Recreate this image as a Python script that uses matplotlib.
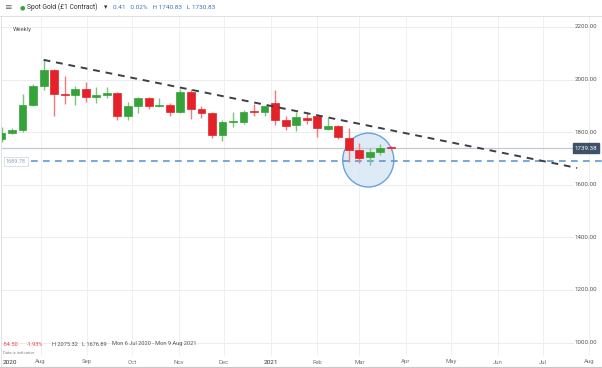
import matplotlib
matplotlib.use("Agg")
import matplotlib.pyplot as plt
import matplotlib.dates as mdates
from matplotlib.patches import Ellipse, FancyBboxPatch
from matplotlib.transforms import blended_transform_factory
import numpy as np
import pandas as pd

plt.rcParams['font.family'] = ['Roboto', 'DejaVu Sans']

# ---------------- data ----------------
week_start = pd.to_datetime([
    '2020-07-06', '2020-07-13', '2020-07-20', '2020-07-27', '2020-08-03', '2020-08-10',
    '2020-08-17', '2020-08-24', '2020-08-31', '2020-09-07', '2020-09-14', '2020-09-21',
    '2020-09-28', '2020-10-05', '2020-10-12', '2020-10-19', '2020-10-26', '2020-11-02',
    '2020-11-09', '2020-11-16', '2020-11-23', '2020-11-30', '2020-12-07', '2020-12-14',
    '2020-12-21', '2020-12-28', '2021-01-04', '2021-01-11', '2021-01-18', '2021-01-25',
    '2021-02-01', '2021-02-08', '2021-02-15', '2021-02-22', '2021-03-01', '2021-03-08',
    '2021-03-15', '2021-03-22'])
opens = [1774, 1798, 1807, 1902, 1975, 2035, 1944, 1940, 1964, 1933, 1941, 1950,
         1861, 1900, 1930, 1900, 1902, 1878, 1951, 1889, 1872, 1788, 1838, 1840,
         1882, 1877, 1910, 1846, 1828, 1855, 1862, 1814, 1825, 1779, 1733, 1707,
         1726, 1742]
highs = [1818, 1815, 1944, 1984, 2075, 2040, 2015, 1976, 1992, 1973, 1973, 1951,
         1916, 1933, 1935, 1931, 1910, 1965, 1965, 1898, 1875, 1848, 1875, 1885,
         1906, 1900, 1959, 1863, 1875, 1875, 1870, 1855, 1826, 1816, 1760, 1740,
         1755, 1746]
lows = [1763, 1794, 1799, 1900, 1962, 1863, 1907, 1902, 1916, 1910, 1931, 1848,
        1848, 1873, 1887, 1894, 1860, 1874, 1852, 1853, 1777, 1765, 1820, 1832,
        1860, 1863, 1828, 1808, 1805, 1832, 1783, 1809, 1775, 1685, 1682, 1677,
        1713, 1731]
closes = [1798, 1807, 1902, 1975, 2035, 1944, 1940, 1964, 1933, 1941, 1950, 1861,
          1900, 1930, 1900, 1902, 1878, 1951, 1889, 1872, 1788, 1838, 1840, 1878,
          1877, 1898, 1847, 1825, 1856, 1846, 1815, 1824, 1783, 1733, 1700, 1725,
          1741, 1739.38]

trend_dates = pd.to_datetime(['2020-08-03', '2021-07-24'])
trend_prices = [2075, 1664]
support_level = 1689.78
last_price = 1739.38
circle_center_date = pd.Timestamp('2021-03-07')
circle_center_price = 1694
circle_days = 34
circle_price_span = 205

y_ticks = [1000, 1200, 1400, 1600, 1800, 2000, 2200]
month_starts = pd.to_datetime(['2020-07-01', '2020-08-01', '2020-09-01', '2020-10-01',
                               '2020-11-01', '2020-12-01', '2021-01-01', '2021-02-01',
                               '2021-03-01', '2021-04-01', '2021-05-01', '2021-06-01',
                               '2021-07-01', '2021-08-01'])
month_labels = ['2020', 'Aug', 'Sep', 'Oct', 'Nov', 'Dec', '2021', 'Feb', 'Mar',
                'Apr', 'May', 'Jun', 'Jul', 'Aug']

# ---------------- figure ----------------
W, H = 602, 368
fig = plt.figure(figsize=(W / 100, H / 100), dpi=100)
fig.patch.set_facecolor('white')

def fx(x):
    return x / W

def fy(y):
    return 1 - y / H

ax_left, ax_right, ax_top, ax_bottom = 1, 599, 17, 356
ax = fig.add_axes([fx(ax_left), fy(ax_bottom), (ax_right - ax_left) / W, (ax_bottom - ax_top) / H])
for s in ax.spines.values():
    s.set_visible(False)
ax.set_xticks([])
ax.set_yticks([])

base = mdates.date2num(pd.Timestamp('2020-07-01'))
ax.set_xlim(base + 4.66, base + 402.5)
ax.set_ylim(949, 2238)

plot_right_frac = (573 - ax_left) / (ax_right - ax_left)

# grid
for t in y_ticks:
    ax.axhline(t, xmin=0, xmax=plot_right_frac, color='#ececec', lw=0.7, zorder=0)
xnums = mdates.date2num(month_starts)
for xv in xnums:
    ax.axvline(xv, color='#f0f0f0', lw=0.7, zorder=0)

# circle highlight
ell = Ellipse((mdates.date2num(circle_center_date), circle_center_price),
              width=circle_days, height=circle_price_span,
              facecolor='#dbe8f6', edgecolor='#5b9bd5', lw=1.0, alpha=0.9, zorder=1)
ax.add_patch(ell)

# candles
dn = mdates.date2num(week_start)
o = np.array(opens, float); c = np.array(closes, float)
hi = np.array(highs, float); lo = np.array(lows, float)
up = c >= o
body_col = np.where(up, '#35a33a', '#e3222a')
wick_col = np.where(up, '#7cc47f', '#f07a7e')
ax.vlines(dn, lo, hi, colors=wick_col, lw=1.0, zorder=3)
bottoms = np.minimum(o, c)
heights = np.maximum(np.abs(c - o), 4)
ax.bar(dn, heights, bottom=bottoms, width=5.2, color=body_col, edgecolor=body_col,
       lw=0.5, zorder=4)

# trend line
ax.plot(mdates.date2num(trend_dates), trend_prices, color='#3c3f48', lw=1.4,
        dashes=(3.5, 3), zorder=5, clip_on=False)

# last price line
ax.axhline(last_price, xmin=0, xmax=plot_right_frac, color='#c3c9d0', lw=0.9, zorder=2)
# support dashed line
xmin_frac = (31 - ax_left) / (ax_right - ax_left)
ax.axhline(support_level, xmin=xmin_frac, xmax=1.01, color='#5f98d2', lw=1.2,
           dashes=(4, 3.2), zorder=2, clip_on=False)

# right-side axis labels
trans_r = blended_transform_factory(fig.transFigure, ax.transData)
for t in y_ticks:
    ax.text(fx(597), t, f"{t:.2f}", transform=trans_r, ha='right', va='center',
            fontsize=4.4, color='#555555', clip_on=False)

# last price box
ax.text(fx(586), last_price, f"{last_price:.2f}", transform=trans_r, ha='center',
        va='center', fontsize=4.4, color='white', clip_on=False, zorder=10,
        bbox=dict(boxstyle='square,pad=0.35', facecolor='#3f5168', edgecolor='#3f5168'))
# support label box
ax.text(fx(16), support_level, f"{support_level:.2f}", transform=trans_r, ha='center',
        va='center', fontsize=4.0, color='#8aa6c4', clip_on=False, zorder=10,
        bbox=dict(boxstyle='square,pad=0.35', facecolor='white', edgecolor='#d5dbe2', lw=0.6))

# month labels
trans_b = blended_transform_factory(ax.transData, fig.transFigure)
for xv, lab in zip(xnums, month_labels):
    xp = ax.transData.transform((xv, 0))[0]
    if xp < 10:
        fig.text(fx(3), fy(362), lab, ha='left', va='center', fontsize=4.6,
                 color='#333333')
        continue
    dark = lab.isdigit()
    fig.text(xp / fig.dpi / fig.get_figwidth(), fy(362), lab, ha='center', va='center',
             fontsize=4.6 if dark else 4.3, color='#333333' if dark else '#777777')

# bottom axis line
fig.add_artist(plt.Line2D([0, 1], [fy(366.5), fy(366.5)], color='#c8c8c8', lw=0.8))
# header separator
fig.add_artist(plt.Line2D([0, 1], [fy(15.5), fy(15.5)], color='#e2e2e2', lw=0.8))
# left border line
fig.add_artist(plt.Line2D([fx(1.2), fx(1.2)], [fy(16), fy(366)], color='#e2e2e2', lw=0.7))

# header
fig.text(fx(4), fy(7.5), '\u2261', fontsize=6.5, color='#666666', va='center',
         family='DejaVu Sans')
fig.text(fx(19.5), fy(7.5), '\u25cf', fontsize=4.5, color='#2fa53a', va='center',
         family='DejaVu Sans')
fig.text(fx(27), fy(7.5), 'Spot Gold (\u00a31 Contract)', fontsize=4.9, color='#333333',
         va='center')
fig.text(fx(104), fy(7.5), '\u25be', fontsize=4.9, color='#333333', va='center',
         family='DejaVu Sans')
fig.text(fx(113), fy(7.5), '0.41   0.02%   H 1740.83   L 1730.83', fontsize=4.6,
         color='#3b78b8', va='center')
fig.text(fx(13), fy(30), 'Weekly', fontsize=4.3, color='#555555', va='center')

# bottom summary
yb = fy(344)
fig.text(fx(3), yb, '-54.50', fontsize=4.1, color='#e0464a', va='center')
fig.text(fx(27), yb, '-1.93%', fontsize=4.1, color='#e0464a', va='center')
fig.text(fx(52), yb, 'H 2075.32', fontsize=4.1, color='#555555', va='center')
fig.text(fx(82), yb, 'L 1676.89', fontsize=4.1, color='#555555', va='center')
fig.text(fx(112), yb, 'Mon 6 Jul 2020 - Mon 9 Aug 2021', fontsize=4.1, color='#555555',
         va='center')
fig.text(fx(3), fy(352.5), 'Data is indicative', fontsize=3.0, color='#888888',
         va='center')

fig.savefig('out.png', dpi=100, facecolor='white')
